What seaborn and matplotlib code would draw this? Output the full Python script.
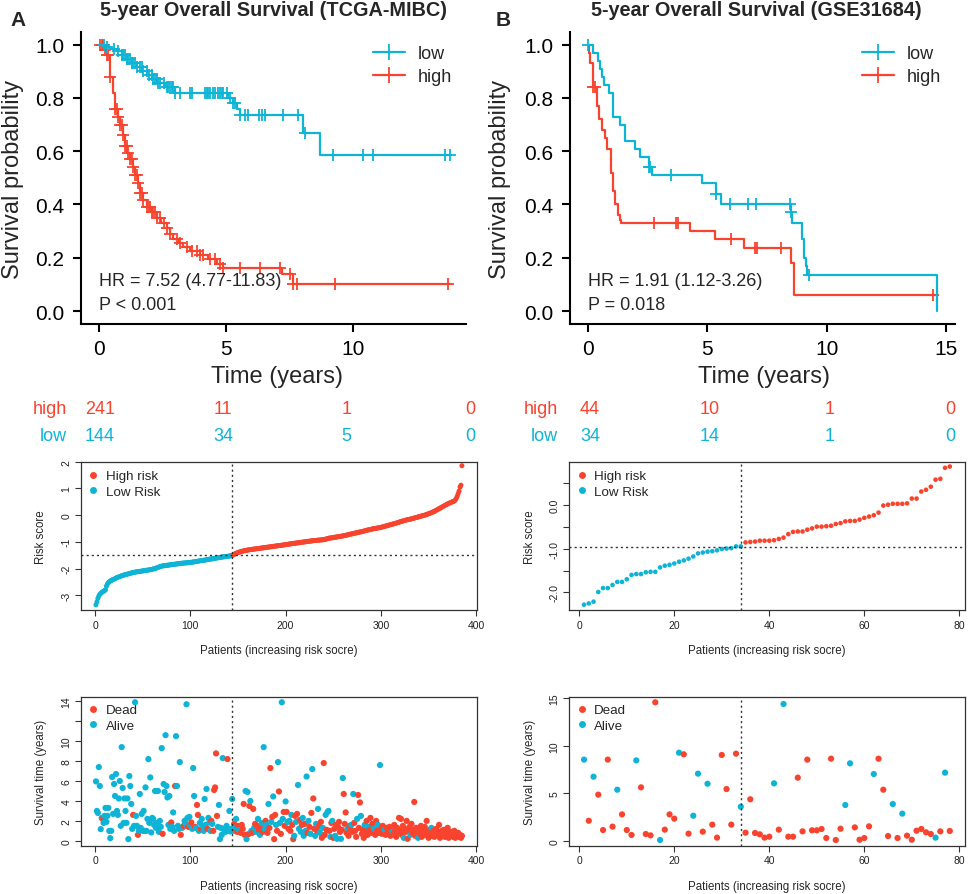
import numpy as np
import pandas as pd
import matplotlib
matplotlib.use("Agg")
import matplotlib.pyplot as plt
import seaborn as sns
from matplotlib.lines import Line2D

sns.set_theme(style="white")
plt.rcParams['font.family'] = ['Liberation Sans', 'DejaVu Sans']
plt.rcParams['axes.unicode_minus'] = False

RED = "#F8442E"
CYAN = "#0DB4D6"

# ---------------- Kaplan-Meier data (step points) ----------------
kmA_low_t = [0, 0.25, 0.5, 0.7, 0.9, 1.1, 1.3, 1.5, 1.7, 1.9, 2.1, 2.3, 2.6, 3.0, 5.1, 5.3, 5.45, 5.55, 8.05, 8.7, 13.85]
kmA_low_s = [1.0, 0.99, 0.985, 0.975, 0.96, 0.945, 0.93, 0.915, 0.90, 0.885, 0.87, 0.855, 0.84, 0.817, 0.80, 0.78, 0.76, 0.735, 0.667, 0.586, 0.586]
kmA_low_cens = [0.21, 0.31, 0.58, 0.77, 0.91, 0.97, 1.04, 1.10, 1.17, 1.23, 1.30, 1.36, 1.43, 1.50, 1.63, 1.69,
                1.76, 1.89, 1.96, 2.09, 2.15, 2.22, 2.28, 2.35, 2.41, 2.55, 2.68, 2.74, 2.81, 2.87, 2.94, 3.01,
                3.20, 3.60, 3.66, 4.19, 4.25, 4.32, 4.38, 4.51, 4.58, 4.71, 4.78, 4.84, 4.91, 5.04, 5.17, 5.30,
                5.37, 5.56, 5.75, 5.89, 6.29, 6.42, 6.55, 7.27, 7.86, 8.12, 9.24, 10.42, 10.81, 13.64, 13.83]
kmA_high_t = [0, 0.2, 0.31, 0.45, 0.55, 0.64, 0.74, 0.84, 0.94, 1.04, 1.13, 1.23, 1.33, 1.43, 1.53, 1.63, 1.76,
              1.89, 2.05, 2.28, 2.45, 2.68, 2.8, 2.94, 3.15, 3.33, 3.6, 3.99, 4.3, 4.65, 4.9, 7.2, 7.66, 13.83]
kmA_high_s = [1.0, 0.98, 0.96, 0.88, 0.82, 0.76, 0.73, 0.70, 0.66, 0.62, 0.595, 0.57, 0.54, 0.51, 0.48, 0.445, 0.415,
              0.39, 0.37, 0.35, 0.33, 0.31, 0.29, 0.27, 0.255, 0.24, 0.225, 0.21, 0.195, 0.176, 0.16, 0.14, 0.10, 0.10]
kmA_high_cens = [0.05, 0.12, 0.18, 0.25, 0.31, 0.38, 0.45, 0.64, 0.71, 0.77, 0.84, 0.91, 0.97, 1.04, 1.10, 1.17,
                 1.23, 1.30, 1.36, 1.43, 1.50, 1.56, 1.63, 1.69, 1.76, 1.89, 1.96, 2.02, 2.09, 2.15, 2.22, 2.28,
                 2.41, 2.55, 2.68, 2.81, 3.07, 3.20, 3.46, 3.66, 3.86, 3.99, 4.12, 4.38, 4.58, 4.78, 4.91, 5.56,
                 6.35, 7.14, 7.53, 7.66, 7.80, 9.30, 13.77]

kmB_low_t = [0, 0.22, 0.43, 0.53, 0.60, 0.67, 0.88, 1.06, 1.37, 1.58, 2.0, 2.2, 2.56, 2.7, 4.79, 5.35, 5.56,
             8.49, 8.56, 8.98, 9.05, 9.12, 9.19, 14.6]
kmB_low_s = [1.0, 0.97, 0.94, 0.91, 0.88, 0.85, 0.82, 0.73, 0.70, 0.64, 0.61, 0.58, 0.54, 0.51, 0.48, 0.44, 0.40,
             0.37, 0.33, 0.27, 0.20, 0.17, 0.135, 0.0]
kmB_low_cens = [0.0, 2.58, 2.62, 3.5, 5.38, 5.94, 6.72, 7.03, 8.46, 8.52, 9.26]
kmB_high_t = [0, 0.04, 0.11, 0.21, 0.39, 0.46, 0.60, 0.74, 0.81, 0.98, 1.06, 1.16, 1.26, 1.34, 1.40, 4.30, 5.31,
              6.54, 8.52, 8.63, 14.6]
kmB_high_s = [1.0, 0.97, 0.93, 0.84, 0.77, 0.72, 0.68, 0.65, 0.61, 0.52, 0.45, 0.40, 0.36, 0.34, 0.33, 0.30, 0.27,
              0.235, 0.18, 0.06, 0.06]
kmB_high_cens = [0.21, 0.29, 2.77, 3.70, 3.79, 6.0, 7.02, 7.09, 8.10, 14.46]

# risk tables
table_times = [0, 5, 10, 15]
A_high_n = [241, 11, 1, 0]
A_low_n = [144, 34, 5, 0]
B_high_n = [44, 10, 1, 0]
B_low_n = [34, 14, 1, 0]

# ---------------- Risk score / survival time data ----------------
A_n_low = 144
A_cutoff = -1.49
A_score = [
    -3.36, -3.25, -3.12, -3.03, -2.97, -2.93, -2.90, -2.87, -2.85, -2.83,
    -2.80, -2.66, -2.58, -2.53, -2.50, -2.47, -2.45, -2.43, -2.41, -2.40,
    -2.38, -2.36, -2.34, -2.33, -2.31, -2.30, -2.29, -2.27, -2.26, -2.25,
    -2.24, -2.23, -2.22, -2.21, -2.20, -2.19, -2.18, -2.17, -2.16, -2.15,
    -2.14, -2.14, -2.13, -2.12, -2.12, -2.11, -2.11, -2.10, -2.10, -2.09,
    -2.08, -2.08, -2.07, -2.07, -2.06, -2.06, -2.05, -2.04, -2.04, -2.03,
    -2.02, -2.01, -2.00, -1.99, -1.97, -1.96, -1.95, -1.93, -1.92, -1.91,
    -1.90, -1.90, -1.89, -1.89, -1.88, -1.88, -1.87, -1.87, -1.86, -1.86,
    -1.85, -1.85, -1.84, -1.84, -1.83, -1.83, -1.82, -1.82, -1.81, -1.81,
    -1.80, -1.80, -1.80, -1.79, -1.79, -1.79, -1.78, -1.78, -1.78, -1.77,
    -1.77, -1.76, -1.76, -1.75, -1.74, -1.74, -1.73, -1.73, -1.72, -1.71,
    -1.71, -1.70, -1.70, -1.69, -1.69, -1.68, -1.67, -1.67, -1.66, -1.65,
    -1.65, -1.64, -1.64, -1.63, -1.62, -1.62, -1.61, -1.60, -1.60, -1.59,
    -1.59, -1.58, -1.57, -1.57, -1.56, -1.56, -1.55, -1.55, -1.54, -1.54,
    -1.53, -1.53, -1.52, -1.51,
    -1.49, -1.47, -1.45, -1.43, -1.42, -1.40,
    -1.39, -1.38, -1.37, -1.36, -1.35, -1.34, -1.33, -1.33, -1.32, -1.31,
    -1.30, -1.30, -1.29, -1.29, -1.28, -1.28, -1.27, -1.27, -1.26, -1.26,
    -1.25, -1.25, -1.24, -1.24, -1.23, -1.23, -1.22, -1.22, -1.21, -1.21,
    -1.20, -1.20, -1.19, -1.19, -1.18, -1.18, -1.17, -1.17, -1.16, -1.16,
    -1.15, -1.15, -1.14, -1.14, -1.13, -1.13, -1.12, -1.12, -1.11, -1.11,
    -1.10, -1.10, -1.09, -1.08, -1.08, -1.07, -1.07, -1.06, -1.06, -1.05,
    -1.05, -1.04, -1.04, -1.03, -1.03, -1.02, -1.02, -1.01, -1.01, -1.00,
    -1.00, -0.99, -0.99, -0.98, -0.98, -0.97, -0.97, -0.96, -0.96, -0.95,
    -0.95, -0.95, -0.94, -0.94, -0.94, -0.93, -0.93, -0.93, -0.92, -0.92,
    -0.91, -0.90, -0.89, -0.88, -0.87, -0.86, -0.86, -0.85, -0.85, -0.84,
    -0.83, -0.83, -0.82, -0.82, -0.81, -0.80, -0.80, -0.79, -0.79, -0.78,
    -0.77, -0.76, -0.76, -0.75, -0.74, -0.73, -0.72, -0.71, -0.71, -0.70,
    -0.69, -0.68, -0.67, -0.67, -0.66, -0.65, -0.64, -0.63, -0.63, -0.62,
    -0.61, -0.60, -0.59, -0.58, -0.57, -0.56, -0.55, -0.55, -0.54, -0.53,
    -0.52, -0.51, -0.51, -0.50, -0.49, -0.49, -0.48, -0.47, -0.47, -0.46,
    -0.45, -0.44, -0.43, -0.42, -0.41, -0.40, -0.39, -0.38, -0.37, -0.36,
    -0.35, -0.34, -0.33, -0.32, -0.31, -0.30, -0.29, -0.28, -0.27, -0.25,
    -0.24, -0.23, -0.22, -0.21, -0.20, -0.19, -0.18, -0.17, -0.17, -0.16,
    -0.15, -0.14, -0.13, -0.12, -0.11, -0.10, -0.09, -0.08, -0.07, -0.06,
    -0.05, -0.04, -0.03, -0.02, -0.01, 0.00, 0.01, 0.02, 0.04, 0.05,
    0.06, 0.08, 0.09, 0.11, 0.12, 0.14, 0.16, 0.18, 0.20, 0.22,
    0.24, 0.26, 0.28, 0.30, 0.32, 0.34, 0.36, 0.38, 0.40, 0.42,
    0.44, 0.45, 0.47, 0.48, 0.50, 0.51, 0.53, 0.56, 0.62, 0.70,
    0.80, 0.90, 1.05, 1.12, 1.85]
A_time = [
    5.96, 3.0, 2.8, 7.4, 5.5, 1.17, 2.3, 2.2, 1.8, 2.5,
    3.3, 1.9, 2.5, 3.3, 1.0, 0.27, 1.0, 6.4, 2.7, 5.7,
    4.5, 6.7, 3.0, 2.6, 4.25, 6.0, 1.5, 9.4, 5.3, 1.8,
    4.25, 3.0, 1.8, 4.25, 0.17, 6.5, 5.5, 3.7, 1.2, 2.6,
    1.5, 13.9, 2.5, 1.5, 0.6, 1.0, 4.7, 1.3, 2.7, 1.0,
    3.0, 1.0, 5.36, 1.0, 2.2, 8.2, 1.8, 6.36, 0.84, 2.3,
    2.2, 1.6, 5.0, 1.3, 1.8, 5.0, 0.9, 2.0, 1.4, 9.3,
    0.7, 5.7, 4.9, 10.6, 5.5, 4.35, 1.6, 4.5, 1.2, 1.84,
    1.4, 2.85, 1.0, 5.5, 10.5, 5.5, 1.5, 1.2, 7.9, 0.6,
    1.3, 1.34, 1.5, 2.0, 1.7, 13.7, 2.3, 1.4, 2.4, 1.6,
    1.84, 1.2, 7.3, 4.5, 1.4, 1.3, 3.6, 2.6, 1.0, 1.8,
    1.17, 2.2, 1.5, 1.0, 4.2, 1.6, 5.2, 1.2, 2.3, 1.84,
    1.0, 2.0, 1.7, 1.0, 5.1, 5.36, 8.77, 2.5, 1.4, 3.6,
    0.17, 1.3, 0.6, 8.3, 1.2, 1.0, 0.9, 1.5, 8.2, 1.1,
    3.0, 0.94, 1.2, 4.2,
    1.0, 1.7, 1.3, 2.2, 0.9, 1.5, 1.1, 1.0, 0.8, 1.6,
    1.2, 3.7, 0.6, 5.0, 0.17, 4.9, 0.67, 3.5, 4.0, 1.0,
    0.8, 3.2, 1.3, 1.7, 0.9, 1.5, 2.2, 1.1, 0.6, 1.4,
    1.8, 0.9, 9.4, 1.2, 2.0, 1.6, 0.8, 3.7, 1.3, 7.3,
    1.9, 2.4, 4.45, 0.17, 2.6, 1.6, 1.0, 7.9, 4.95, 1.8,
    0.7, 13.9, 2.2, 2.9, 1.5, 3.95, 2.9, 1.9, 1.2, 2.0,
    1.0, 2.6, 1.6, 0.17, 0.5, 2.5, 1.9, 2.7, 5.6, 1.2,
    2.1, 0.9, 1.6, 2.3, 0.5, 1.7, 1.0, 6.45, 0.8, 2.0,
    1.4, 0.7, 2.8, 7.2, 4.25, 1.2, 0.5, 1.7, 1.0, 3.2,
    1.5, 0.8, 1.9, 0.3, 1.3, 7.8, 0.6, 2.6, 1.1, 2.9,
    3.0, 1.0, 0.4, 1.8, 2.0, 0.3, 1.2, 0.5, 1.6, 0.2,
    1.4, 1.9, 0.9, 0.2, 1.1, 6.3, 4.7, 1.7, 2.85, 0.8,
    1.3, 0.5, 1.5, 1.2, 1.6, 0.9, 4.7, 1.8, 1.0, 0.4,
    2.2, 4.6, 1.3, 3.85, 2.5, 0.7, 1.1, 0.3, 1.6, 1.0,
    2.0, 0.6, 1.4, 1.1, 2.3, 0.8, 1.7, 0.9, 1.2, 0.6,
    2.0, 1.0, 1.6, 0.8, 7.6, 1.2, 0.7, 1.5, 0.9, 1.1,
    0.6, 1.3, 0.8, 1.0, 1.4, 0.5, 1.2, 0.9, 0.7, 1.6,
    1.1, 0.4, 1.3, 0.8, 2.3, 1.0, 2.2, 0.6, 1.5, 0.3,
    1.2, 0.9, 2.0, 0.2, 1.0, 1.4, 0.6, 1.7, 0.8, 1.1,
    3.9, 0.5, 1.3, 0.9, 0.3, 1.2, 0.7, 1.5, 0.4, 1.0,
    0.8, 1.4, 0.6, 2.0, 0.9, 0.3, 1.1, 0.7, 1.3, 0.5,
    1.0, 0.4, 0.8, 1.2, 0.6, 0.9, 1.6, 0.3, 0.7, 1.0,
    0.5, 1.1, 0.4, 0.8, 0.6, 1.3, 0.3, 0.7, 0.9, 0.5,
    0.6, 0.4, 1.0, 0.3, 0.7, 0.5, 0.8, 0.4, 0.6, 0.3,
    0.5]
A_dead = [
    0, 0, 0, 0, 0, 0, 0, 1, 0, 0,
    0, 0, 0, 0, 0, 0, 0, 0, 0, 0,
    0, 0, 0, 0, 0, 0, 0, 0, 0, 0,
    0, 0, 0, 0, 0, 0, 0, 0, 0, 1,
    0, 0, 0, 0, 1, 0, 0, 0, 0, 0,
    0, 0, 0, 0, 0, 0, 0, 0, 0, 0,
    0, 0, 0, 0, 0, 0, 0, 0, 0, 0,
    1, 0, 0, 0, 0, 0, 0, 0, 0, 1,
    0, 0, 0, 1, 0, 0, 0, 0, 0, 1,
    0, 0, 1, 0, 0, 0, 0, 1, 0, 0,
    1, 0, 0, 0, 1, 0, 1, 1, 0, 0,
    1, 0, 0, 0, 0, 0, 0, 1, 0, 0,
    0, 1, 0, 1, 1, 1, 1, 1, 0, 0,
    0, 0, 0, 0, 0, 0, 0, 0, 1, 0,
    0, 0, 0, 0,
    0, 1, 0, 0, 1, 1, 0, 0, 1, 1,
    1, 1, 1, 0, 0, 0, 1, 1, 0, 0,
    1, 1, 0, 1, 0, 1, 0, 1, 0, 1,
    0, 1, 0, 0, 1, 0, 1, 0, 1, 1,
    0, 1, 0, 1, 1, 0, 1, 0, 1, 0,
    1, 0, 0, 1, 1, 0, 1, 0, 1, 0,
    1, 0, 1, 1, 0, 1, 0, 1, 0, 0,
    1, 0, 1, 0, 0, 1, 0, 0, 1, 0,
    1, 0, 1, 0, 1, 1, 0, 0, 1, 0,
    1, 0, 1, 1, 0, 1, 1, 0, 1, 0,
    0, 1, 0, 1, 0, 1, 1, 0, 1, 0,
    1, 1, 1, 0, 1, 0, 1, 1, 1, 1,
    0, 1, 1, 1, 0, 1, 0, 1, 1, 1,
    0, 1, 1, 1, 0, 1, 1, 1, 0, 1,
    1, 1, 0, 1, 1, 1, 1, 1, 0, 1,
    1, 1, 0, 1, 0, 1, 1, 1, 1, 0,
    1, 1, 1, 1, 1, 1, 1, 0, 1, 1,
    1, 1, 1, 1, 1, 1, 1, 1, 1, 0,
    1, 1, 1, 1, 1, 1, 0, 1, 1, 1,
    1, 1, 1, 1, 0, 1, 1, 1, 1, 1,
    1, 1, 1, 1, 1, 1, 1, 1, 0, 1,
    1, 1, 1, 1, 1, 1, 1, 1, 1, 1,
    1, 1, 1, 1, 1, 1, 1, 1, 1, 1,
    1, 1, 1, 1, 1, 1, 1, 1, 1, 1,
    1]

B_n_low = 34
B_cutoff = -0.96
B_score = [
    -2.28, -2.25, -2.21, -1.99, -1.90, -1.90, -1.83, -1.76, -1.76, -1.70,
    -1.60, -1.58, -1.58, -1.54, -1.53, -1.53, -1.43, -1.39, -1.37, -1.34,
    -1.30, -1.27, -1.23, -1.18, -1.11, -1.09, -1.07, -1.06, -1.04, -1.01,
    -1.00, -0.99, -0.95, -0.95, -0.86, -0.85, -0.84, -0.82, -0.82, -0.82,
    -0.81, -0.78, -0.75, -0.67, -0.62, -0.61, -0.61, -0.57, -0.54, -0.50,
    -0.50, -0.49, -0.48, -0.44, -0.42, -0.38, -0.37, -0.37, -0.34, -0.30,
    -0.27, -0.24, -0.18, -0.02, 0.00, 0.02, 0.02, 0.02, 0.03, 0.14,
    0.14, 0.30, 0.34, 0.41, 0.57, 0.59, 0.84, 0.87]
B_time = [
    8.54, 2.1, 6.74, 4.85, 1.12, 8.54, 1.48, 5.37, 2.77, 1.12,
    0.6, 8.46, 5.62, 0.7, 0.56, 14.58, 0.07, 1.16, 2.77, 2.32,
    9.27, 9.1, 0.74, 2.63, 7.06, 0.95, 6.0, 1.69, 0.32, 9.03,
    5.44, 1.69, 9.17, 3.58, 0.84, 4.36, 0.81, 0.67, 0.32, 0.42,
    6.04, 1.16, 14.4, 0.42, 0.42, 6.64, 0.98, 8.54, 1.09, 1.09,
    1.23, 0.28, 8.64, 0.07, 1.26, 3.76, 8.15, 1.4, 0.1, 0.28,
    1.51, 7.02, 8.64, 5.37, 0.49, 3.86, 0.28, 2.85, 0.53, 0.1,
    1.05, 1.23, 0.88, 0.7, 0.32, 0.98, 7.17, 1.02]
B_dead = [
    0, 1, 0, 1, 1, 1, 1, 0, 1, 1,
    1, 0, 1, 1, 1, 1, 0, 1, 1, 1,
    0, 1, 1, 0, 0, 1, 0, 1, 1, 1,
    1, 1, 1, 0, 1, 1, 1, 1, 1, 1,
    0, 1, 0, 1, 1, 1, 1, 1, 1, 1,
    1, 1, 1, 1, 1, 0, 0, 1, 1, 1,
    1, 0, 1, 1, 1, 0, 1, 0, 1, 1,
    1, 1, 1, 1, 0, 1, 0, 1]

for arr in (A_time, A_dead):
    assert len(arr) == len(A_score), (len(arr), len(A_score))
for arr in (B_time, B_dead):
    assert len(arr) == len(B_score), (len(arr), len(B_score))

# ---------------- layout helpers (pixel coords, top-left origin) ----------------
W, H = 969, 895
fig = plt.figure(figsize=(W / 100, H / 100), dpi=100)
fig.patch.set_facecolor("white")


def rect(x0, y0, x1, y1):
    return [x0 / W, 1 - y1 / H, (x1 - x0) / W, (y1 - y0) / H]


def ftext(x, y, s, **kw):
    fig.text(x / W, 1 - y / H, s, **kw)


def step_value(t, s, q):
    idx = np.searchsorted(np.asarray(t), np.asarray(q), side="right") - 1
    return np.asarray(s)[np.clip(idx, 0, len(s) - 1)]


def km_panel(box, xlim, xticks, low, high, hr_text, p_text, hr_x, leg_x):
    ax = fig.add_axes(rect(*box))
    for (t, s, cens, col) in (high, low):
        df = pd.DataFrame({"t": t, "s": s})
        sns.lineplot(data=df, x="t", y="s", drawstyle="steps-post", estimator=None, sort=False,
                     color=col, lw=1.6, ax=ax)
        ax.plot(cens, step_value(t, s, cens), ls="none", marker="+", ms=9, mew=1.3, color=col)
    ax.set_xlim(*xlim)
    ax.set_ylim(-0.0488, 1.0477)
    ax.set_xticks(xticks)
    ax.set_yticks([0, 0.2, 0.4, 0.6, 0.8, 1.0])
    ax.set_yticklabels(["0.0", "0.2", "0.4", "0.6", "0.8", "1.0"])
    for sp in ("top", "right"):
        ax.spines[sp].set_visible(False)
    for sp in ("left", "bottom"):
        ax.spines[sp].set_linewidth(1.5)
        ax.spines[sp].set_color("black")
    ax.tick_params(axis="both", direction="out", length=6, width=1.5, color="black",
                   labelsize=15, labelcolor="black", bottom=True, left=True)
    ax.tick_params(axis="y", pad=6)
    ax.tick_params(axis="x", pad=5)
    ax.set_xlabel("")
    ax.set_ylabel("")
    ax.text(hr_x, 0.0 + 0.0, "", transform=ax.transData)
    handles = [Line2D([], [], color=low[3], lw=1.6, marker="+", ms=11, mew=1.3),
               Line2D([], [], color=high[3], lw=1.6, marker="+", ms=11, mew=1.3)]
    fig.legend(handles, ["low", "high"], loc="upper left", bbox_to_anchor=(leg_x / W, 1 - 46 / H),
               frameon=False, fontsize=13, handlelength=1.75, handletextpad=0.75, labelspacing=0.35,
               borderpad=0, borderaxespad=0)
    ftext(hr_x, 282, hr_text, fontsize=13, ha="left", va="center")
    ftext(hr_x, 306, p_text, fontsize=13, ha="left", va="center")
    return ax


def risk_table(box, xlim, label_x, high_n, low_n):
    ax = fig.add_axes(rect(*box))
    ax.set_xlim(*xlim)
    ax.set_ylim(box[3], box[1])
    ax.axis("off")
    for n_list, name, col, yy in ((high_n, "high", RED, 410), (low_n, "low", CYAN, 437)):
        ax.text(label_x, yy, name, color=col, fontsize=13, ha="right", va="center")
        for tt, nn in zip(table_times, n_list):
            ax.text(tt, yy, str(nn), color=col, fontsize=13, ha="center", va="center", clip_on=False)


def dot_panel(box, xlim, ylim, x, y, is_red, labels, s, xticks, yticks, ytick_labels, vline, hline=None,
              leg_x=0, leg_top=0):
    ax = fig.add_axes(rect(*box))
    df = pd.DataFrame({"x": x, "y": y, "grp": np.where(is_red, labels[0], labels[1])})
    sns.scatterplot(data=df, x="x", y="y", hue="grp", palette={labels[0]: RED, labels[1]: CYAN},
                    s=s, linewidth=0, ax=ax, legend=False)
    ax.axvline(vline, color="#333333", lw=1.0, ls=(0, (1.5, 2.2)))
    if hline is not None:
        ax.axhline(hline, color="#333333", lw=1.0, ls=(0, (1.5, 2.2)))
    ax.set_xlim(*xlim)
    ax.set_ylim(*ylim)
    ax.set_xticks(xticks)
    ax.set_yticks(yticks)
    ax.set_yticklabels(ytick_labels)
    ax.set_xlabel("")
    ax.set_ylabel("")
    for sp in ax.spines.values():
        sp.set_linewidth(0.9)
        sp.set_color("#333333")
        sp.set_visible(True)
    ax.tick_params(axis="both", direction="out", length=4, width=0.8, color="#333333",
                   labelsize=7.5, labelcolor="#222222", bottom=True, left=True, pad=3)
    for lab in ax.get_yticklabels():
        lab.set_rotation(90)
        lab.set_va("center")
    handles = [Line2D([], [], ls="none", marker="o", ms=5, color=RED, mec="none"),
               Line2D([], [], ls="none", marker="o", ms=5, color=CYAN, mec="none")]
    fig.legend(handles, labels, loc="upper left", bbox_to_anchor=(leg_x / W, 1 - leg_top / H),
               frameon=False, fontsize=9.6, handlelength=1.0, handletextpad=0.45, labelspacing=0.22,
               borderpad=0, borderaxespad=0)
    return ax


# ---------------- panel A ----------------
km_panel((81, 33, 466, 325), (-0.70, 14.46), [0, 5, 10],
         (kmA_low_t, kmA_low_s, kmA_low_cens, CYAN), (kmA_high_t, kmA_high_s, kmA_high_cens, RED),
         "HR = 7.52 (4.77-11.83)", "P < 0.001", 99, 373)
risk_table((81, 395, 466, 450), (-0.77, 14.84), -1.34, A_high_n, A_low_n)

A_pat = np.arange(1, len(A_score) + 1)
A_is_high = A_pat > A_n_low
dot_panel((81, 462.7, 476.7, 611), (-14.7, 400.5), (-3.554, 2.0), A_pat, A_score, A_is_high,
          ["High risk", "Low Risk"], 13, [0, 100, 200, 300, 400], [-3, -2, -1, 0, 1, 2],
          ["-3", "-2", "-1", "0", "1", "2"], A_n_low, A_cutoff, leg_x=86.5, leg_top=471)
dot_panel((81, 697.7, 476.7, 846.7), (-14.7, 400.5), (-0.49, 14.46), A_pat, A_time,
          np.asarray(A_dead) == 1, ["Dead", "Alive"], 20, [0, 100, 200, 300, 400],
          [0, 2, 4, 6, 8, 10, 12, 14], ["0", "2", "4", "6", "8", "10", "", "14"], A_n_low,
          leg_x=86.5, leg_top=705)

# ---------------- panel B ----------------
km_panel((570, 33, 955, 325), (-0.74, 15.37), [0, 5, 10, 15],
         (kmB_low_t, kmB_low_s, kmB_low_cens, CYAN), (kmB_high_t, kmB_high_s, kmB_high_cens, RED),
         "HR = 1.91 (1.12-3.26)", "P = 0.018", 588, 862)
risk_table((570, 395, 955, 450), (-0.83, 15.21), -1.33, B_high_n, B_low_n)

B_pat = np.arange(1, len(B_score) + 1)
B_is_high = B_pat > B_n_low
dot_panel((569.3, 462.7, 965, 611), (-2.1, 81.2), (-2.40, 0.98), B_pat, B_score, B_is_high,
          ["High risk", "Low Risk"], 11, [0, 20, 40, 60, 80], [-2.0, -1.5, -1.0, -0.5, 0.0, 0.5],
          ["-2.0", "", "-1.0", "", "0.0", ""], B_n_low, B_cutoff, leg_x=575, leg_top=471)
dot_panel((569.3, 697.7, 965, 846.7), (-2.1, 81.2), (-0.53, 15.17), B_pat, B_time,
          np.asarray(B_dead) == 1, ["Dead", "Alive"], 20, [0, 20, 40, 60, 80],
          [0, 5, 10, 15], ["0", "5", "10", "15"], B_n_low, leg_x=575, leg_top=705)

# ---------------- titles and labels ----------------
ftext(18, 20, "A", fontsize=15, fontweight="bold", ha="center", va="center")
ftext(503, 20, "B", fontsize=15, fontweight="bold", ha="center", va="center")
ftext(273, 11, "5-year Overall Survival (TCGA-MIBC)", fontsize=14.3, fontweight="bold", ha="center", va="center")
ftext(756, 11, "5-year Overall Survival (GSE31684)", fontsize=14.3, fontweight="bold", ha="center", va="center")
ftext(13, 179, "Survival probability", fontsize=17, rotation=90, ha="center", va="center")
ftext(500, 179, "Survival probability", fontsize=17, rotation=90, ha="center", va="center")
ftext(277, 377, "Time (years)", fontsize=17, ha="center", va="center")
ftext(764, 377, "Time (years)", fontsize=17, ha="center", va="center")

for xc in (278.5, 767):
    ftext(xc, 651, "Patients (increasing risk socre)", fontsize=8.3, ha="center", va="center")
    ftext(xc, 886.7, "Patients (increasing risk socre)", fontsize=8.3, ha="center", va="center")
for xc in (41, 530):
    ftext(xc, 537, "Risk score", fontsize=8.3, rotation=90, ha="center", va="center")
    ftext(xc, 772, "Survival time (years)", fontsize=8.3, rotation=90, ha="center", va="center")

fig.savefig("out.png", dpi=100, facecolor="white")
